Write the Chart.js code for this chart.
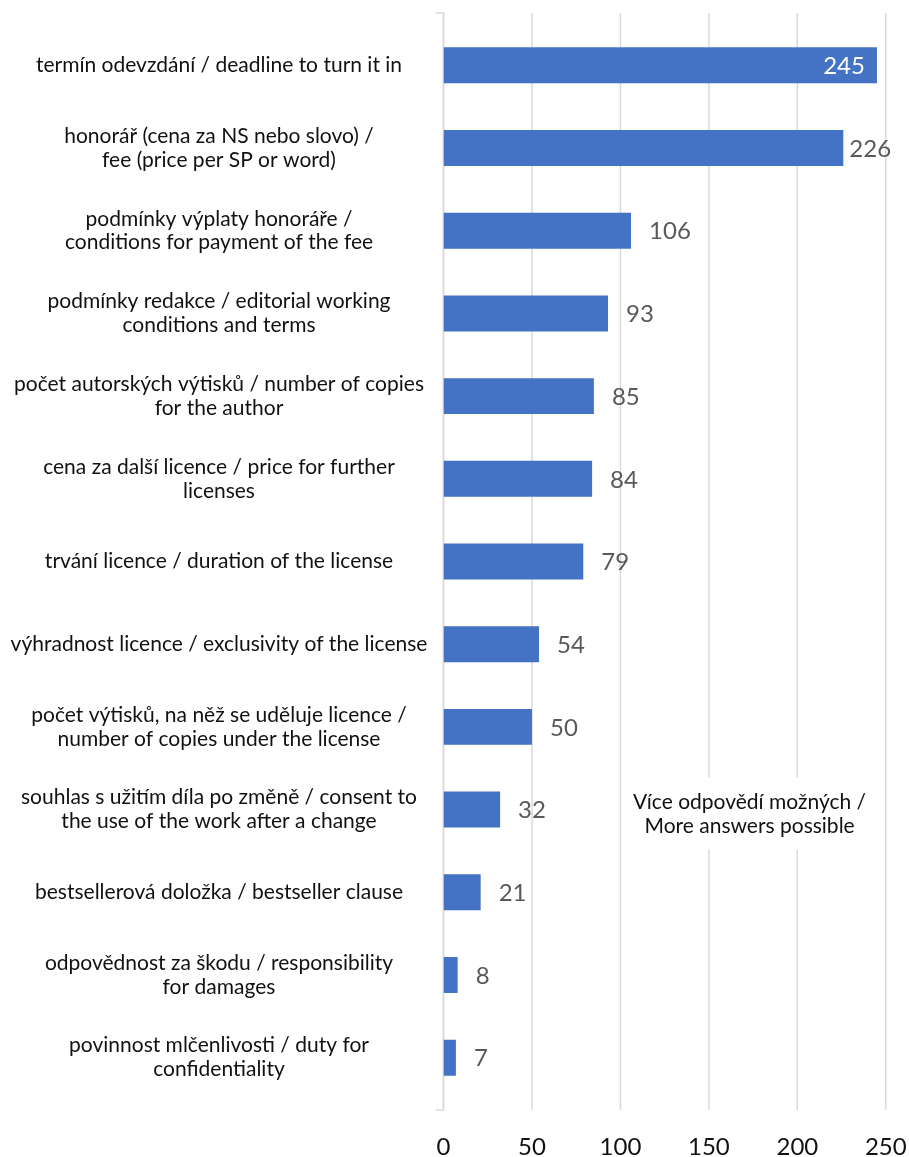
<!DOCTYPE html>
<html>
<head>
<meta charset="utf-8">
<script src="https://cdn.jsdelivr.net/npm/chart.js@4/dist/chart.umd.min.js"></script>
<style>
  html, body { margin: 0; padding: 0; background: #fff; }
  #wrap { width: 909px; height: 1157px; position: relative; }
</style>
</head>
<body>
<div id="wrap"><canvas id="chart"></canvas></div>
<script>
// category labels, one entry per line of text
const categories = [
  ["termín odevzdání / deadline to turn it in"],
  ["honorář (cena za NS nebo slovo) /", "fee (price per SP or word)"],
  ["podmínky výplaty honoráře /", "conditions for payment of the fee"],
  ["podmínky redakce / editorial working", "conditions and terms"],
  ["počet autorských výtisků / number of copies", "for the author"],
  ["cena za další licence / price for further", "licenses"],
  ["trvání licence / duration of the license"],
  ["výhradnost licence / exclusivity of the license"],
  ["počet výtisků, na něž se uděluje licence /", "number of copies under the license"],
  ["souhlas s užitím díla po změně / consent to", "the use of the work after a change"],
  ["bestsellerová doložka / bestseller clause"],
  ["odpovědnost za škodu / responsibility", "for damages"],
  ["povinnost mlčenlivosti / duty for", "confidentiality"]
];
const answers = [245, 226, 106, 93, 85, 84, 79, 54, 50, 32, 21, 8, 7];
const xTicks = [0, 50, 100, 150, 200, 250];
const note = ["Více odpovědí možných /", "More answers possible"];

const FONT = "Lato";
const GRID = "#d9d9d9";
const labelFont = { family: FONT, size: 21, lineHeight: 1.14 };

// centre the category text at x=219 inside the axis box
const meas = document.createElement("canvas").getContext("2d");
meas.font = labelFont.size + "px " + FONT;
let widest = 0;
categories.forEach(c => c.forEach(l => { widest = Math.max(widest, meas.measureText(l).width); }));
const yPad = 443.5 - 219 - widest / 2;

// gridlines reach a little past the plot area, like the axis line
const gridPlugin = {
  id: "grid",
  beforeDatasetsDraw(chart) {
    const { ctx, chartArea, scales } = chart;
    const top = chartArea.top - 11, bottom = chartArea.bottom + 11;
    ctx.save();
    ctx.strokeStyle = GRID;
    ctx.lineWidth = 1.5;
    xTicks.forEach(v => {
      const x = scales.x.getPixelForValue(v);
      ctx.beginPath();
      ctx.moveTo(x, top);
      ctx.lineTo(x, bottom);
      ctx.stroke();
    });
    const x0 = scales.x.getPixelForValue(0);
    ctx.beginPath();
    ctx.moveTo(x0 - 8, top);
    ctx.lineTo(x0, top);
    ctx.lineTo(x0, bottom);
    ctx.lineTo(x0 - 8, bottom);
    ctx.stroke();

    // note box over the gridlines
    const cx = scales.x.getPixelForValue(173);
    const cy = scales.y.getPixelForValue(9) + 5;
    ctx.fillStyle = "#fff";
    ctx.fillRect(cx - 126, cy - 37, 252, 72);
    ctx.fillStyle = "#111";
    ctx.font = labelFont.size + "px " + FONT;
    ctx.textAlign = "center";
    ctx.textBaseline = "middle";
    ctx.fillText(note[0], cx, cy - 12);
    ctx.fillText(note[1], cx, cy + 12);
    ctx.restore();
  }
};

// value labels at the bar ends, nudged left near the edge, inside if no room
const valuePlugin = {
  id: "values",
  afterDatasetsDraw(chart) {
    const { ctx } = chart;
    const meta = chart.getDatasetMeta(0);
    const limit = 891;
    ctx.save();
    ctx.font = "24px " + FONT;
    ctx.textBaseline = "middle";
    ctx.textAlign = "left";
    meta.data.forEach((bar, i) => {
      const txt = String(answers[i]);
      const w = ctx.measureText(txt).width;
      if (bar.x + 6 + w > 899) {
        ctx.fillStyle = "#fff";
        ctx.fillText(txt, bar.x - 12 - w, bar.y + 1);
      } else {
        const left = Math.max(bar.x + 6, Math.min(bar.x + 18, limit - w));
        ctx.fillStyle = "#595959";
        ctx.fillText(txt, left, bar.y + 1);
      }
    });
    ctx.restore();
  }
};

new Chart(document.getElementById("chart"), {
  type: "bar",
  data: {
    labels: categories,
    datasets: [{
      data: answers,
      backgroundColor: "#4472c4",
      borderWidth: 0,
      barPercentage: 0.435,
      categoryPercentage: 1
    }]
  },
  options: {
    indexAxis: "y",
    responsive: true,
    maintainAspectRatio: false,
    animation: false,
    layout: { padding: { top: 24, right: 23.2, left: 0, bottom: 0 } },
    plugins: { legend: { display: false }, tooltip: { enabled: false } },
    scales: {
      x: {
        min: 0,
        max: 250,
        afterBuildTicks: s => { s.ticks = xTicks.map(v => ({ value: v })); },
        grid: { display: false },
        border: { display: false },
        ticks: { color: "#111", font: { family: FONT, size: 24 }, padding: 26 },
        afterFit: s => { s.height = 58; s.paddingLeft = 0; s.paddingRight = 0; }
      },
      y: {
        grid: { display: false, drawTicks: false },
        border: { display: false },
        ticks: {
          color: "#111",
          font: labelFont,
          crossAlign: "center",
          padding: yPad,
          autoSkip: false
        },
        afterFit: s => { s.width = 443.5; s.paddingTop = 0; s.paddingBottom = 0; }
      }
    }
  },
  plugins: [gridPlugin, valuePlugin]
});
</script>
</body>
</html>
